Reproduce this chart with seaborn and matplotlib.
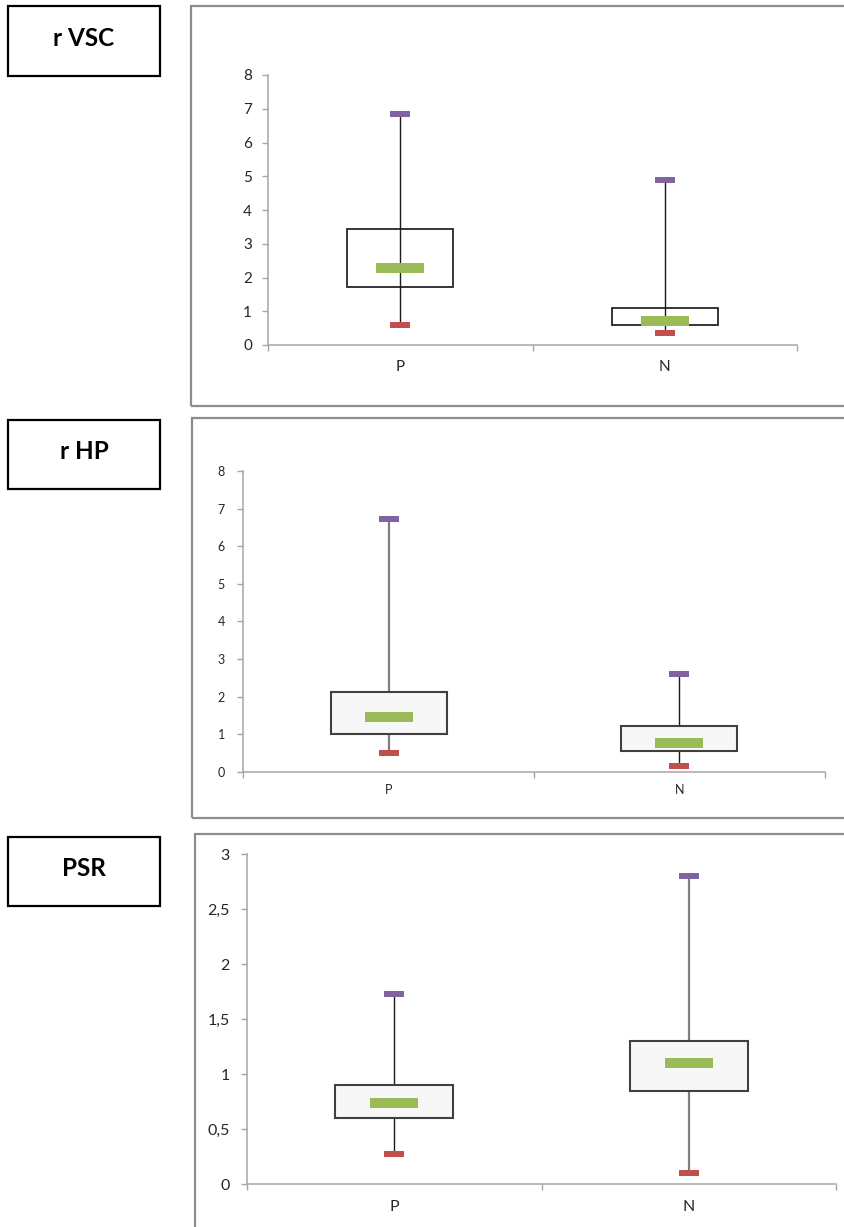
import numpy as np
import pandas as pd
import matplotlib
matplotlib.use("Agg")
import matplotlib.pyplot as plt
from matplotlib.patches import Rectangle
from matplotlib.path import Path
from matplotlib.ticker import FuncFormatter
import seaborn as sns

# ---------------- data ----------------
groups = ["P", "N"]

vsc_min = [0.58, 0.35]
vsc_q1 = [1.72, 0.60]
vsc_med = [2.27, 0.72]
vsc_q3 = [3.44, 1.10]
vsc_max = [6.85, 4.90]

hp_min = [0.50, 0.15]
hp_q1 = [1.01, 0.56]
hp_med = [1.46, 0.76]
hp_q3 = [2.11, 1.21]
hp_max = [6.72, 2.61]

psr_min = [0.275, 0.105]
psr_q1 = [0.60, 0.85]
psr_med = [0.74, 1.10]
psr_q3 = [0.90, 1.30]
psr_max = [1.73, 2.80]

panel_titles = ["r VSC", "r HP", "PSR"]
vsc_yticks = [0, 1, 2, 3, 4, 5, 6, 7, 8]
hp_yticks = [0, 1, 2, 3, 4, 5, 6, 7, 8]
psr_yticks = [0, 0.5, 1, 1.5, 2, 2.5, 3]

# ---------------- style ----------------
sns.set_style("white")
plt.rcParams["font.family"] = ["Lato", "DejaVu Sans"]

W, H = 845, 1227
fig = plt.figure(figsize=(W / 100, H / 100), dpi=100)

GREEN = "#9BBB59"
PURPLE = "#8064A2"
RED = "#C0504D"
AXCOL = "#a6a6a6"
FRAMECOL = "#8c8c8c"


def rect_fig(x0, y0, x1, y1):
    return [x0 / W, 1 - y1 / H, (x1 - x0) / W, (y1 - y0) / H]


def rect_marker(ratio):
    h = ratio
    verts = [(-1, -h), (1, -h), (1, h), (-1, h), (-1, -h)]
    codes = [Path.MOVETO, Path.LINETO, Path.LINETO, Path.LINETO, Path.CLOSEPOLY]
    return Path(verts, codes)


panels = [
    dict(title=panel_titles[0], mins=vsc_min, q1=vsc_q1, med=vsc_med, q3=vsc_q3, maxs=vsc_max,
         yticks=vsc_yticks, ylim=(0, 8), ax_px=(268, 75, 797, 345),
         frame=(191, 6, 850, 406), label_box=(8, 6, 160, 76),
         face="white", edge="#262626", box_lw=1.3, whisk_col=["#1a1a1a", "#1a1a1a"],
         whisk_lw=[1.0, 1.0], whisk_top=True, fs=11, xpad=11, ypad=7,
         green_w=34, purple_w=14.5),
    dict(title=panel_titles[1], mins=hp_min, q1=hp_q1, med=hp_med, q3=hp_q3, maxs=hp_max,
         yticks=hp_yticks, ylim=(0, 8), ax_px=(243.5, 471, 824.5, 771.7),
         frame=(192, 418, 850, 818), label_box=(8, 420, 160, 489),
         face="#f7f7f7", edge="#404040", box_lw=1.5, whisk_col=["#7f7f7f", "#1a1a1a"],
         whisk_lw=[1.6, 1.0], whisk_top=False, fs=9, xpad=8.5, ypad=9,
         green_w=35, purple_w=14.5),
    dict(title=panel_titles[2], mins=psr_min, q1=psr_q1, med=psr_med, q3=psr_q3, maxs=psr_max,
         yticks=psr_yticks, ylim=(0, 3), ax_px=(247, 854.3, 836, 1184.3),
         frame=(195, 834, 850, 1245), label_box=(8, 837, 160, 906),
         face="#f7f7f7", edge="#404040", box_lw=1.5, whisk_col=["#1a1a1a", "#7f7f7f"],
         whisk_lw=[1.0, 1.6], whisk_top=False, fs=11.5, xpad=11.5, ypad=8,
         green_w=35, purple_w=15),
]

green_marker = rect_marker(0.2)
small_marker = rect_marker(0.27)

for p in panels:
    # outer chart frame
    fx0, fy0, fx1, fy1 = p["frame"]
    fig.patches.append(Rectangle((fx0 / W, 1 - fy1 / H), (fx1 - fx0) / W, (fy1 - fy0) / H,
                                 transform=fig.transFigure, fill=False,
                                 edgecolor=FRAMECOL, linewidth=1.6))
    # label box
    lx0, ly0, lx1, ly1 = p["label_box"]
    fig.patches.append(Rectangle((lx0 / W, 1 - ly1 / H), (lx1 - lx0) / W, (ly1 - ly0) / H,
                                 transform=fig.transFigure, fill=False,
                                 edgecolor="black", linewidth=1.6))
    fig.text((lx0 + lx1) / 2 / W, 1 - ((ly0 + ly1) / 2 - 3) / H, p["title"],
             ha="center", va="center", fontsize=17.5, fontweight="bold", color="black")

    ax = fig.add_axes(rect_fig(*p["ax_px"]))
    ax.set_facecolor("none")

    # long-format five-number data: boxplot over these gives Q1..Q3 exactly
    rows = []
    for i, g in enumerate(groups):
        for v in (p["mins"][i], p["q1"][i], p["med"][i], p["q3"][i], p["maxs"][i]):
            rows.append((g, v))
    df = pd.DataFrame(rows, columns=["group", "value"])

    pos = np.arange(len(groups))
    # whisker line from min to max
    for i in range(len(groups)):
        ax.vlines(pos[i], p["mins"][i], p["maxs"][i], color=p["whisk_col"][i],
                  linewidth=p["whisk_lw"][i], zorder=3 if p["whisk_top"] else 1)

    sns.boxplot(data=df, x="group", y="value", order=groups, whis=np.inf, width=0.4,
                color=p["face"], linecolor=p["edge"], linewidth=p["box_lw"],
                saturation=1, showcaps=False, showfliers=False,
                whiskerprops={"visible": False}, medianprops={"visible": False},
                boxprops={"zorder": 2}, ax=ax)

    # median / max / min markers
    sns.scatterplot(x=pos, y=p["med"], marker=green_marker, s=p["green_w"] ** 2,
                    color=GREEN, linewidth=0, zorder=5, ax=ax)
    sns.scatterplot(x=pos, y=p["maxs"], marker=small_marker, s=p["purple_w"] ** 2,
                    color=PURPLE, linewidth=0, zorder=5, ax=ax)
    sns.scatterplot(x=pos, y=p["mins"], marker=small_marker, s=p["purple_w"] ** 2,
                    color=RED, linewidth=0, zorder=5, ax=ax)

    ax.set_xlim(-0.5, len(groups) - 0.5)
    ax.set_ylim(*p["ylim"])
    ax.set_xlabel("")
    ax.set_ylabel("")
    ax.grid(False)

    # y axis
    ax.set_yticks(p["yticks"])
    ax.yaxis.set_major_formatter(FuncFormatter(lambda v, _: (f"{v:g}").replace(".", ",")))
    ax.tick_params(axis="y", which="major", direction="out", length=4.5, width=1,
                   color=AXCOL, labelsize=p["fs"], labelcolor="#262626", pad=p["ypad"], left=True)

    # x axis: boundary ticks (major) and category labels (minor)
    ax.set_xticks(np.arange(len(groups) + 1) - 0.5)
    ax.set_xticklabels([])
    ax.set_xticks(pos, minor=True)
    ax.set_xticklabels(groups, minor=True)
    ax.tick_params(axis="x", which="major", direction="out", length=4.5, width=1,
                   color=AXCOL, bottom=True)
    ax.tick_params(axis="x", which="minor", length=0, labelsize=p["fs"],
                   labelcolor="#262626", pad=p["xpad"])

    for side in ("top", "right"):
        ax.spines[side].set_visible(False)
    for side in ("left", "bottom"):
        ax.spines[side].set_visible(True)
        ax.spines[side].set_color(AXCOL)
        ax.spines[side].set_linewidth(1.1)

fig.savefig("out.png", dpi=100)
